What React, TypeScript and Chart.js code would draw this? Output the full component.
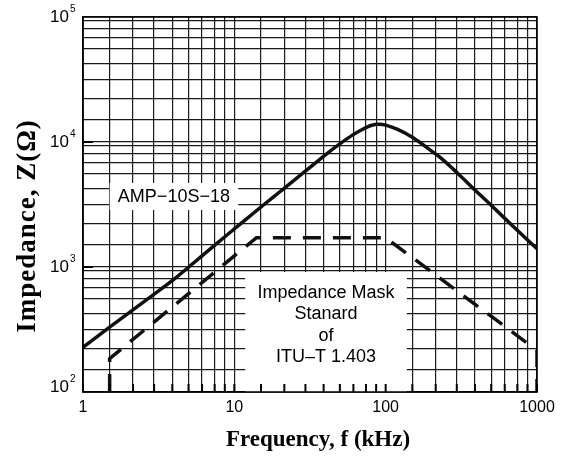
import React, { useEffect, useRef } from 'react';
import { Chart, registerables } from 'chart.js';
Chart.register(...registerables);

// Solid curve: AMP-10S-18 impedance (kHz, ohm)
const freqSolid = [1, 1.5, 2, 3, 4, 5, 7, 10, 15, 20, 30, 40, 50, 60, 70, 80, 90, 100, 120, 150, 200, 230, 300, 400, 500, 700, 1000];
const zSolid = [228, 330, 428, 615, 800, 1000, 1410, 2015, 3020, 4000, 5950, 7900, 9700, 11300, 12600, 13550, 13850, 13650, 12600, 10900, 8500, 7500, 5600, 4000, 3100, 2100, 1400];

// Dashed curve: ITU-T I.403 impedance mask
const freqMask = [1.5, 1.5, 14, 100, 1000, 1000];
const zMask = [100, 185, 1715, 1715, 215, 100];

// Grid positions inside each decade (as drawn in the original)
const xSteps = [1, 1.5, 2.14, 2.95, 3.89, 4.98, 6.12, 7.41, 8.65];
const ySteps = [1, 1.5, 2.24, 3.13, 4.25, 5.54, 6.8, 8.07, 9.4];
const xTickLabels = [1, 10, 100, 1000];
const yTickExps = [2, 3, 4, 5];

const ampLabel = 'AMP\u221210S\u221218';
const maskLabel = ['Impedance Mask', 'Stanard', 'of', 'ITU\u2013T 1.403'];

export default function App() {
  const ref = useRef<HTMLCanvasElement>(null);
  useEffect(() => {
    document.body.style.margin = '0';
    const canvas = ref.current!;
    const xGrid: number[] = [];
    [1, 10, 100].forEach((d) => xSteps.forEach((s) => xGrid.push(d * s)));
    xGrid.push(1000);
    const yGrid: number[] = [];
    [100, 1000, 10000].forEach((d) => ySteps.forEach((s) => yGrid.push(d * s)));
    yGrid.push(100000);

    const ampBox = { f0: 1.5, f1: 10.6, z0: 2860, z1: 4700 };
    const maskBox = { f0: 11.8, f1: 138, z0: 100, z1: 912 };

    const overlay = {
      id: 'overlay',
      beforeDatasetsDraw(chart: any) {
        const { ctx, scales } = chart;
        const x = scales.x, y = scales.y;
        ctx.save();
        ctx.fillStyle = '#fff';
        [ampBox, maskBox].forEach((b) => {
          const x0 = x.getPixelForValue(b.f0), x1 = x.getPixelForValue(b.f1);
          const y0 = y.getPixelForValue(b.z1), y1 = y.getPixelForValue(b.z0);
          ctx.fillRect(x0, y0, x1 - x0, y1 - y0);
        });
        ctx.restore();
      },
      afterDraw(chart: any) {
        const { ctx, scales, chartArea } = chart;
        const x = scales.x, y = scales.y;
        ctx.save();
        // bottom inner ticks
        ctx.strokeStyle = '#000';
        ctx.lineWidth = 2;
        xGrid.forEach((v) => {
          const px = x.getPixelForValue(v);
          ctx.beginPath();
          ctx.moveTo(px, chartArea.bottom);
          ctx.lineTo(px, chartArea.bottom - 8);
          ctx.stroke();
        });
        // left major ticks
        [1000, 10000].forEach((v) => {
          const py = y.getPixelForValue(v);
          ctx.beginPath();
          ctx.moveTo(chartArea.left, py);
          ctx.lineTo(chartArea.left + 10, py);
          ctx.stroke();
        });
        // frame
        ctx.lineWidth = 1.5;
        ctx.strokeRect(chartArea.left, chartArea.top, chartArea.right - chartArea.left, chartArea.bottom - chartArea.top);

        ctx.fillStyle = '#000';
        // x tick labels
        ctx.font = '16px "Liberation Sans", Arial, sans-serif';
        ctx.textAlign = 'center';
        ctx.textBaseline = 'middle';
        xTickLabels.forEach((v) => {
          ctx.fillText(String(v), x.getPixelForValue(v), chartArea.bottom + 16);
        });
        // y tick labels 10^n
        yTickExps.forEach((e, i) => {
          let py = y.getPixelForValue(Math.pow(10, e));
          if (i === 0) py -= 5;
          ctx.font = '17px "Liberation Sans", Arial, sans-serif';
          ctx.textAlign = 'right';
          ctx.fillText('10', chartArea.left - 14, py);
          ctx.font = '10px "Liberation Sans", Arial, sans-serif';
          ctx.textAlign = 'left';
          ctx.fillText(String(e), chartArea.left - 13, py - 8);
        });
        // box labels
        ctx.font = '18px "Liberation Sans", Arial, sans-serif';
        ctx.textAlign = 'center';
        {
          const cx = (x.getPixelForValue(ampBox.f0) + x.getPixelForValue(ampBox.f1)) / 2;
          const cy = (y.getPixelForValue(ampBox.z0) + y.getPixelForValue(ampBox.z1)) / 2;
          ctx.fillText(ampLabel, cx, cy + 1);
        }
        {
          const cx = (x.getPixelForValue(maskBox.f0) + x.getPixelForValue(maskBox.f1)) / 2;
          const top = y.getPixelForValue(maskBox.z1);
          maskLabel.forEach((t, i) => ctx.fillText(t, cx, top + 21 + i * 21.3));
        }
        // axis titles
        ctx.font = 'bold 23px "Liberation Serif", "Times New Roman", serif';
        ctx.textAlign = 'center';
        ctx.fillText('Frequency, f (kHz)', 318, 440);
        ctx.save();
        ctx.translate(28, 226);
        ctx.rotate(-Math.PI / 2);
        ctx.font = 'bold 27px "Liberation Serif", "Times New Roman", serif';
        try { (ctx as any).letterSpacing = '1px'; } catch (e) { /* ignore */ }
        ctx.fillText('Impedance, Z(\u03A9)', 0, 0);
        ctx.restore();
        ctx.restore();
      },
    };

    const chart = new Chart(canvas, {
      type: 'line',
      data: {
        datasets: [
          {
            data: freqSolid.map((f, i) => ({ x: f, y: zSolid[i] })),
            borderColor: '#111',
            borderWidth: 3.5,
            pointRadius: 0,
            cubicInterpolationMode: 'monotone',
            fill: false,
          },
          {
            data: freqMask.map((f, i) => ({ x: f, y: zMask[i] })),
            borderColor: '#111',
            borderWidth: 3.5,
            borderDash: [18, 12],
            borderCapStyle: 'butt',
            pointRadius: 0,
            tension: 0,
            fill: false,
          },
        ],
      },
      options: {
        responsive: false,
        maintainAspectRatio: false,
        animation: false,
        layout: { padding: { left: 83, top: 17, right: 26, bottom: 75 } },
        plugins: { legend: { display: false }, tooltip: { enabled: false } },
        scales: {
          x: {
            type: 'logarithmic',
            min: 1,
            max: 1000,
            afterBuildTicks: (s: any) => { s.ticks = xGrid.map((v) => ({ value: v })); },
            ticks: { display: false },
            grid: { color: '#1a1a1a', lineWidth: 1.2, drawTicks: false },
            border: { display: true, color: '#000', width: 1.5 },
          },
          y: {
            type: 'logarithmic',
            min: 100,
            max: 100000,
            afterBuildTicks: (s: any) => { s.ticks = yGrid.map((v) => ({ value: v })); },
            ticks: { display: false },
            grid: { color: '#1a1a1a', lineWidth: 1.2, drawTicks: false },
            border: { display: true, color: '#000', width: 1.5 },
          },
        },
      } as any,
      plugins: [overlay],
    });
    return () => chart.destroy();
  }, []);
  return (
    <div style={{ width: 563, height: 467 }}>
      <canvas ref={ref} width={563} height={467} style={{ display: 'block' }} />
    </div>
  );
}
